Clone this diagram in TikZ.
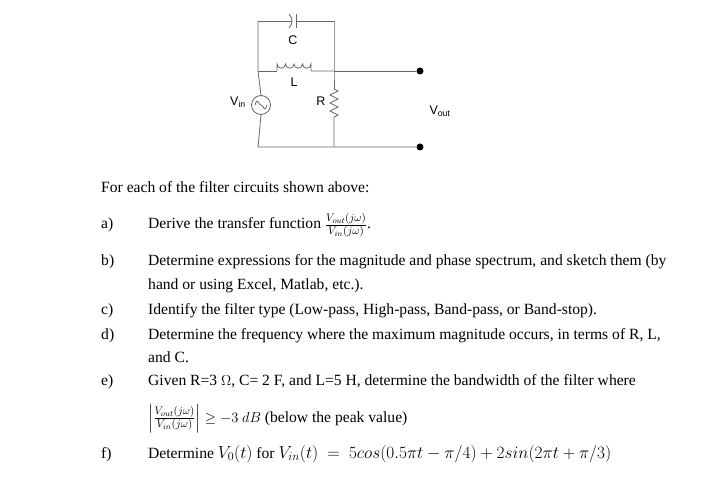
\documentclass[tikz,border=0pt]{standalone}
\usepackage{amsmath,amssymb}
\usepackage{fontspec}
\setmainfont{Liberation Serif}
\newfontfamily\arialf{Liberation Sans}
\begin{document}
\begin{tikzpicture}[x=1pt,y=-1pt,
  wire/.style={draw=black!60,line width=0.8pt},
  lab/.style={font=\arialf\fontsize{12.5}{13}\selectfont,inner sep=0pt},
  txt/.style={anchor=base west,inner sep=0pt,font=\fontsize{15.6}{17}\selectfont},
  dot/.style={circle,fill=black,inner sep=0pt,minimum size=7pt}]
\useasboundingbox (0,0) rectangle (709,502);
% circuit
\coordinate (tl) at (258,21);
\coordinate (tr) at (334,21);
\coordinate (ml) at (258,71);
\coordinate (mr) at (334,71);
\coordinate (bl) at (258,147);
\coordinate (br) at (334,147);
\node[dot] (o1) at (420,71) {};
\node[dot] (o2) at (420,147) {};
\node[circle,draw=black!60,line width=0.8pt,minimum size=19pt,inner sep=0pt] (src) at (261,105) {};
\draw[black!60,line width=0.8pt] ([xshift=-6pt]src.center) .. controls ++(3,-9) and ++(-3,0) .. ++(6,0) .. controls ++(3,0) and ++(-3,9) .. ++(6,0);
% capacitor
\draw[wire] (tl) -- (292,21) (tr) -- (296,21) (296,14) -- (296,28);
\draw[wire] (289,14) .. controls (293,18) and (293,24) .. (289,28);
% inductor
\draw[wire] (ml) -- (277,71);
\draw[wire] (277,71) -- (277,64) arc[start angle=180,end angle=0,radius=4.25] arc[start angle=180,end angle=0,radius=4.25] arc[start angle=180,end angle=0,radius=4.25] arc[start angle=180,end angle=0,radius=4.25] -- (311,71) -- (mr);
\draw[wire] (mr) -- (o1);
\draw[wire] (tl) -- (ml) -- (src.north);
\draw[wire] (src.south) -- (bl) -- (br) -- (o2);
\draw[wire] (tr) -- (mr) -- (334,89);
\draw[wire] (334,89) -- (338,91) -- (330,95) -- (338,99) -- (330,103) -- (338,107) -- (330,111) -- (338,115) -- (334,117) -- (br);
\node[lab] (lc) at (293,40) {C};
\node[lab] (ll) at (294,82) {L};
\node[lab] (lr) at (321,101) {R};
\node[lab] (lv) at (238,102) {V\textsubscript{in}};
\node[lab] (lo) at (440,111) {V\textsubscript{out}};
% text
\node[txt] (t0) at (101,193) {For each of the filter circuits shown above:};
\node[txt] (la) at (101,229) {a)};
\node[txt] (ta) at (148,229) {Derive the transfer function $\frac{V_{out}(j\omega)}{V_{in}(j\omega)}$.};
\node[txt] (lb) at (101,266) {b)};
\node[txt] (tb) at (148,266) {Determine expressions for the magnitude and phase spectrum, and sketch them (by};
\node[txt] (tb2) at (148,290) {hand or using Excel, Matlab, etc.).};
\node[txt] (lcc) at (101,315) {c)};
\node[txt] (tc) at (148,315) {Identify the filter type (Low-pass, High-pass, Band-pass, or Band-stop).};
\node[txt] (ld) at (101,339) {d)};
\node[txt] (td) at (148,339) {Determine the frequency where the maximum magnitude occurs, in terms of R, L,};
\node[txt] (td2) at (148,362) {and C.};
\node[txt] (le) at (101,385) {e)};
\node[txt] (te) at (148,385) {Given R=3 $\Omega$, C= 2 F, and L=5 H, determine the bandwidth of the filter where};
\node[txt] (te2) at (148,422) {$\left|\frac{V_{out}(j\omega)}{V_{in}(j\omega)}\right|\geq -3\ dB$ (below the peak value)};
\node[txt] (lf) at (101,458) {f)};
\node[txt] (tf) at (148,458) {Determine {\fontsize{17.5}{19}\selectfont$V_0(t)$} for {\fontsize{17.5}{19}\selectfont$V_{in}(t)\ =\ 5cos(0.5\pi t-\pi/4)+2sin(2\pi t+\pi/3)$}};
\end{tikzpicture}
\end{document}
